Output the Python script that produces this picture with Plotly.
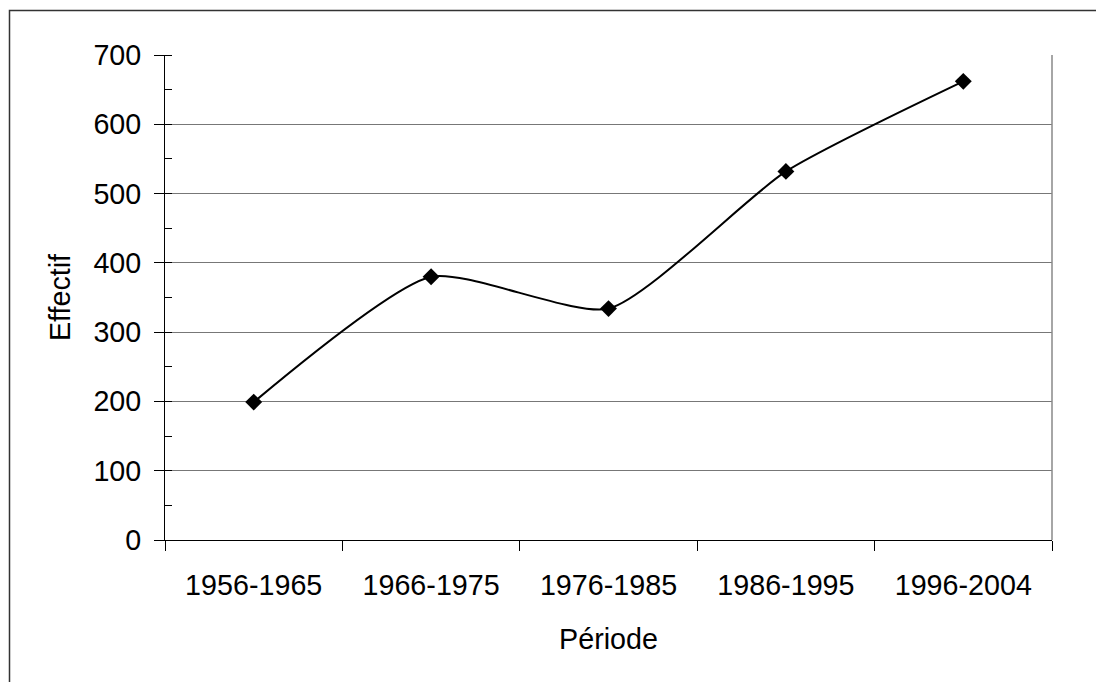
import plotly.graph_objects as go

categories = ["1956-1965", "1966-1975", "1976-1985", "1986-1995", "1996-2004"]
effectif = [199, 380, 334, 532, 662]
y_ticks = [0, 100, 200, 300, 400, 500, 600, 700]

FONT = "Arial, 'Liberation Sans', sans-serif"
FS = 28.7

W, H = 1096, 674
L, T, PW, PH = 157, 47, 887, 485

fig = go.Figure()
fig.add_trace(go.Scatter(
    x=categories, y=effectif, mode="lines+markers",
    line=dict(color="black", width=2, shape="spline", smoothing=0.6),
    marker=dict(symbol="diamond", size=13, color="black"),
    showlegend=False, hoverinfo="x+y",
))

fig.update_layout(
    width=W, height=H,
    margin=dict(l=L, r=W - L - PW, t=T, b=H - T - PH),
    paper_bgcolor="white", plot_bgcolor="white",
    font=dict(family=FONT, size=FS, color="black"),
    xaxis=dict(
        type="category", tickson="boundaries", ticks="outside", ticklen=10,
        tickcolor="black", tickwidth=1, showline=True, linecolor="black",
        linewidth=1, showgrid=False, range=[-0.5, 4.5], ticklabelstandoff=20,
        tickfont=dict(size=FS, family=FONT),
        title=dict(text="Période", font=dict(size=FS, family=FONT), standoff=28),
        automargin=False,
    ),
    yaxis=dict(
        range=[0, 700], tickvals=y_ticks, ticks="outside", ticklen=10,
        tickcolor="black", tickwidth=1, showline=True, linecolor="black",
        linewidth=1, showgrid=True, gridcolor="#777777", gridwidth=1,
        zeroline=False, ticklabelstandoff=7,
        minor=dict(dtick=50, ticks="inside", ticklen=7, tickcolor="black", showgrid=False),
        tickfont=dict(size=FS, family=FONT),
        title=dict(text="Effectif", font=dict(size=FS, family=FONT), standoff=14),
        automargin=False,
    ),
    shapes=[
        dict(type="line", xref="paper", yref="paper", x0=1, x1=1, y0=0, y1=1,
             line=dict(color="#888888", width=1.5)),
        dict(type="rect", xref="paper", yref="paper",
             x0=(1.5 - L) / PW, x1=1.2, y0=-0.5, y1=1 + (T - 2.5) / PH,
             line=dict(color="#333333", width=1.5), fillcolor="rgba(0,0,0,0)"),
    ],
)

fig.write_html("out.html")
